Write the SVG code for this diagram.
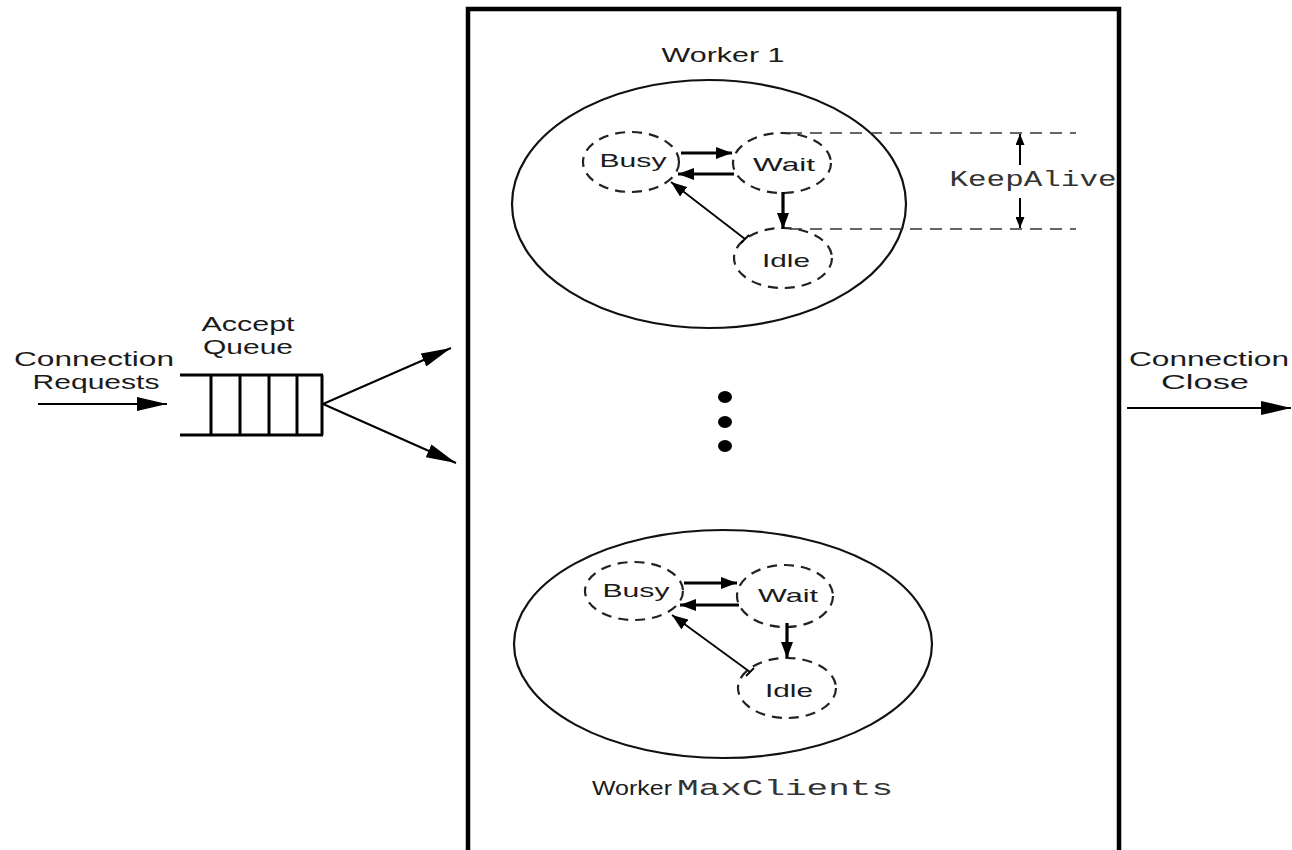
<svg xmlns="http://www.w3.org/2000/svg" width="1292" height="850" viewBox="0 0 1292 850">
<defs>
<style>
.t{font-family:"Liberation Sans",Arial,sans-serif;fill:#1a1a1a;}
.m{font-family:"Liberation Mono","Courier New",monospace;fill:#333;}
.state{fill:none;stroke:#222;stroke-width:2.2;stroke-dasharray:10 7;}
.worker{fill:none;stroke:#111;stroke-width:2.2;}
.bold{stroke:#000;stroke-width:3.2;fill:none;}
.thin{stroke:#000;stroke-width:1.8;fill:none;}
.ka{stroke:#333;stroke-width:1.5;stroke-dasharray:12 8;fill:none;}
</style>
<marker id="big" markerUnits="userSpaceOnUse" markerWidth="32" markerHeight="14" refX="30" refY="7" orient="auto"><path d="M0,0 L30,7 L0,14 z" fill="#000"/></marker>
<marker id="mid" markerUnits="userSpaceOnUse" markerWidth="18" markerHeight="12" refX="16" refY="6" orient="auto"><path d="M0,0 L16,6 L0,12 z" fill="#000"/></marker>
<marker id="sm" markerUnits="userSpaceOnUse" markerWidth="12" markerHeight="9" refX="11" refY="4.5" orient="auto"><path d="M0,0 L11,4.5 L0,9 z" fill="#000"/></marker>
</defs>
<rect width="1292" height="850" fill="#fff"/>

<g id="server">
<path d="M468,860 L468,9 L1119,9 L1119,860" fill="none" stroke="#000" stroke-width="4.5"/>
</g>

<g id="queue">
<line x1="180" y1="375" x2="323" y2="375" stroke="#000" stroke-width="3"/>
<line x1="180" y1="435" x2="323" y2="435" stroke="#000" stroke-width="3"/>
<line x1="211" y1="375" x2="211" y2="435" stroke="#000" stroke-width="3"/>
<line x1="240" y1="375" x2="240" y2="435" stroke="#000" stroke-width="3"/>
<line x1="269" y1="375" x2="269" y2="435" stroke="#000" stroke-width="3"/>
<line x1="297" y1="375" x2="297" y2="435" stroke="#000" stroke-width="3"/>
<line x1="322" y1="375" x2="322" y2="435" stroke="#000" stroke-width="3"/>
<text class="t" x="248" y="331" font-size="21" text-anchor="middle" textLength="93" lengthAdjust="spacingAndGlyphs">Accept</text>
<text class="t" x="248" y="354" font-size="21" text-anchor="middle" textLength="90" lengthAdjust="spacingAndGlyphs">Queue</text>
</g>

<g id="requests">
<text class="t" x="94" y="366" font-size="20" text-anchor="middle" textLength="160" lengthAdjust="spacingAndGlyphs">Connection</text>
<text class="t" x="96" y="389" font-size="20" text-anchor="middle" textLength="127" lengthAdjust="spacingAndGlyphs">Requests</text>
</g>

<g id="close">
<text class="t" x="1209" y="366" font-size="20" text-anchor="middle" textLength="160" lengthAdjust="spacingAndGlyphs">Connection</text>
<text class="t" x="1205" y="389" font-size="20" text-anchor="middle" textLength="88" lengthAdjust="spacingAndGlyphs">Close</text>
</g>

<g id="worker1">
<ellipse class="worker" cx="709" cy="204" rx="197" ry="124"/>
<text class="t" x="723" y="62" font-size="20" text-anchor="middle" textLength="123" lengthAdjust="spacingAndGlyphs">Worker 1</text>
<g id="w1-busy"><ellipse class="state" cx="631" cy="162" rx="48" ry="30"/><text class="t" x="633" y="167" font-size="19" text-anchor="middle" textLength="67" lengthAdjust="spacingAndGlyphs">Busy</text></g>
<g id="w1-wait"><ellipse class="state" cx="782" cy="163" rx="49" ry="30"/><text class="t" x="784" y="171" font-size="19" text-anchor="middle" textLength="62" lengthAdjust="spacingAndGlyphs">Wait</text></g>
<g id="w1-idle"><ellipse class="state" cx="783" cy="258" rx="49" ry="30"/><text class="t" x="786" y="267" font-size="19" text-anchor="middle" textLength="48" lengthAdjust="spacingAndGlyphs">Idle</text></g>
</g>

<g id="keepalive">
<line class="ka" x1="790" y1="133" x2="1076" y2="133"/>
<line class="ka" x1="790" y1="229" x2="1076" y2="229"/>
<text class="m" x="1033" y="186" font-size="22" text-anchor="middle" textLength="167" lengthAdjust="spacingAndGlyphs">KeepAlive</text>
</g>

<g id="dots">
<ellipse cx="725" cy="397" rx="7" ry="6" fill="#000"/>
<ellipse cx="725" cy="422" rx="7" ry="6" fill="#000"/>
<ellipse cx="725" cy="446" rx="7" ry="6" fill="#000"/>
</g>

<g id="workerN">
<ellipse class="worker" cx="723" cy="644" rx="209" ry="114"/>
<text class="t" x="592" y="795" font-size="21" textLength="80" lengthAdjust="spacingAndGlyphs">Worker</text>
<text class="m" x="677" y="795" font-size="22" textLength="216" lengthAdjust="spacingAndGlyphs">MaxClients</text>
<g id="wN-busy"><ellipse class="state" cx="634" cy="591" rx="49" ry="29"/><text class="t" x="636" y="597" font-size="19" text-anchor="middle" textLength="67" lengthAdjust="spacingAndGlyphs">Busy</text></g>
<g id="wN-wait"><ellipse class="state" cx="785" cy="596" rx="48" ry="31"/><text class="t" x="788" y="602" font-size="19" text-anchor="middle" textLength="60" lengthAdjust="spacingAndGlyphs">Wait</text></g>
<g id="wN-idle"><ellipse class="state" cx="787" cy="688" rx="49" ry="30"/><text class="t" x="789" y="697" font-size="19" text-anchor="middle" textLength="48" lengthAdjust="spacingAndGlyphs">Idle</text></g>
</g>

<g id="connectors">
<line x1="38" y1="404" x2="167" y2="404" stroke="#000" stroke-width="2" marker-end="url(#big)"/>
<line x1="323" y1="404" x2="451" y2="348" stroke="#000" stroke-width="2" marker-end="url(#big)"/>
<line x1="323" y1="404" x2="456" y2="463" stroke="#000" stroke-width="2" marker-end="url(#big)"/>
<line x1="1127" y1="408" x2="1291" y2="408" stroke="#000" stroke-width="2" marker-end="url(#big)"/>

<line class="bold" x1="681" y1="153" x2="732" y2="153" marker-end="url(#mid)"/>
<line class="bold" x1="734" y1="174" x2="678" y2="174" marker-end="url(#mid)"/>
<line class="bold" x1="783" y1="192" x2="783" y2="229" marker-end="url(#mid)"/>
<line class="thin" x1="745" y1="239" x2="671" y2="182" marker-end="url(#mid)"/>
<line class="thin" x1="741" y1="243" x2="749" y2="235"/>

<line class="bold" x1="684" y1="583" x2="737" y2="583" marker-end="url(#mid)"/>
<line class="bold" x1="739" y1="605" x2="680" y2="605" marker-end="url(#mid)"/>
<line class="bold" x1="787" y1="623" x2="787" y2="658" marker-end="url(#mid)"/>
<line class="thin" x1="750" y1="672" x2="672" y2="615" marker-end="url(#mid)"/>
<line class="thin" x1="746" y1="676" x2="754" y2="668"/>

<line stroke="#000" stroke-width="2" x1="1020" y1="165" x2="1020" y2="134" marker-end="url(#sm)"/>
<line stroke="#000" stroke-width="2" x1="1020" y1="198" x2="1020" y2="228" marker-end="url(#sm)"/>
</g>
</svg>
